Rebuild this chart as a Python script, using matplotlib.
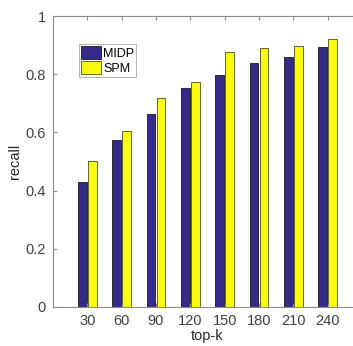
import numpy as np
import matplotlib
matplotlib.use("Agg")
import matplotlib.pyplot as plt

plt.rcParams["font.family"] = ["Liberation Sans", "DejaVu Sans"]

topk = [30, 60, 90, 120, 150, 180, 210, 240]
midp = [0.43, 0.574, 0.662, 0.751, 0.798, 0.840, 0.858, 0.892]
spm = [0.503, 0.605, 0.717, 0.772, 0.876, 0.889, 0.898, 0.922]
yticks = [0, 0.2, 0.4, 0.6, 0.8, 1]
ytick_labels = ["0", "0.2", "0.4", "0.6", "0.8", "1"]

W, H = 353, 346
fig = plt.figure(figsize=(W / 100, H / 100), dpi=100)
# axes box in pixels: left 53, right ~362 (cropped), top 16, bottom 307
ax = fig.add_axes([53 / W, (H - 307) / H, (362 - 53) / W, (307 - 16) / H])

x = np.arange(1, len(topk) + 1)
w = 0.25
off = 0.145
ax.bar(x - off, midp, width=w, color="#352a87", edgecolor="#1a1a1a",
       linewidth=0.6, label="MIDP")
ax.bar(x + off, spm, width=w, color="#f9fb0e", edgecolor="#4d4d1a",
       linewidth=0.6, label="SPM")

ax.set_xlim(0, 9)
ax.set_ylim(0, 1)
ax.set_xticks(x)
ax.set_xticklabels([str(k) for k in topk])
ax.set_yticks(yticks)
ax.set_yticklabels(ytick_labels)

gray = "#8c8c8c"
for s in ax.spines.values():
    s.set_color(gray)
    s.set_linewidth(0.8)
ax.spines["right"].set_visible(False)
ax.tick_params(direction="in", length=3, color=gray, labelsize=10.5,
               labelcolor="#404040", top=True)
ax.tick_params(axis="x", pad=5)
ax.tick_params(axis="y", pad=5)

ax.set_xlabel("top-k", fontsize=10.5, color="#262626", labelpad=1)
ax.set_ylabel("recall", fontsize=10.5, color="#262626", labelpad=3)

leg = ax.legend(loc="upper left", bbox_to_anchor=(0.083, 0.905), fontsize=9,
                frameon=True, fancybox=False, handlelength=1.6,
                handleheight=1.3, handletextpad=0.2, borderpad=0.15,
                labelspacing=0.1, borderaxespad=0)
leg.get_frame().set_edgecolor("#a0a0a0")
leg.get_frame().set_linewidth(0.7)

fig.savefig("out.png", dpi=100)
